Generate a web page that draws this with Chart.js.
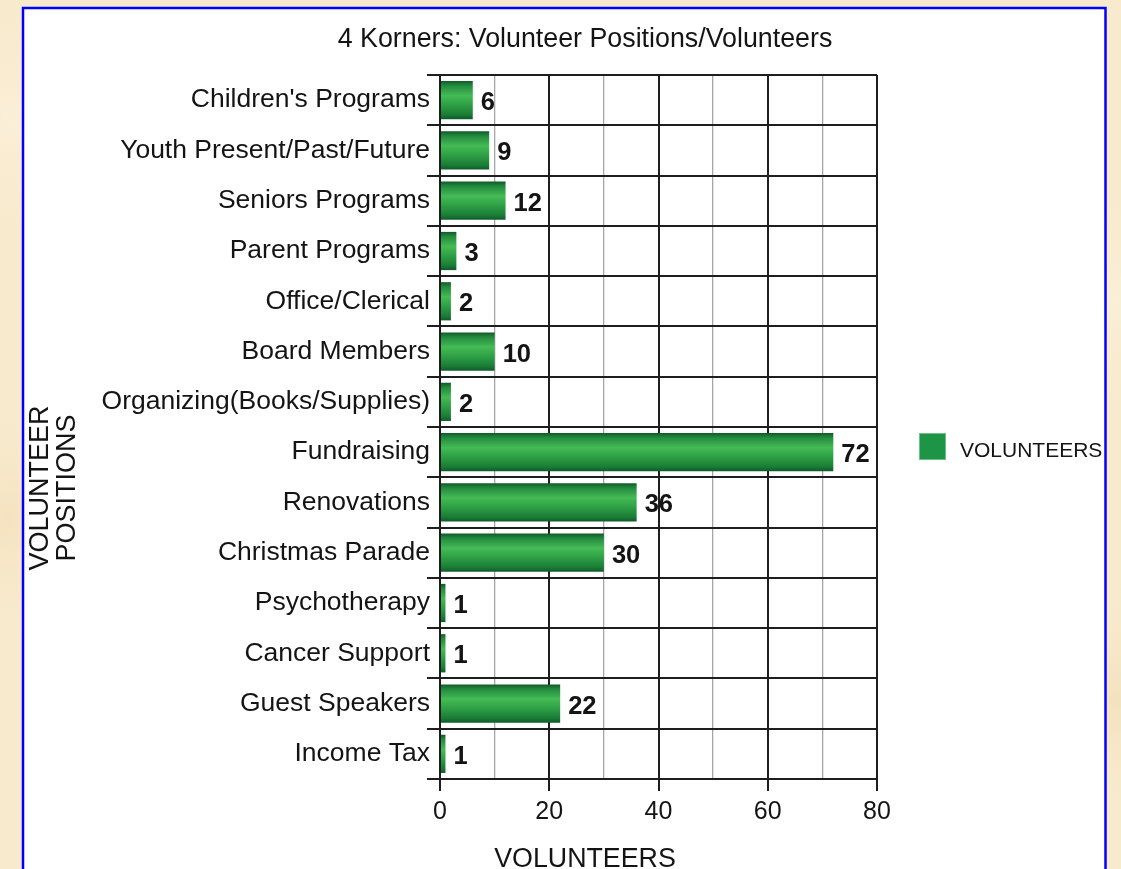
<!DOCTYPE html>
<html>
<head>
<meta charset="utf-8">
<script src="https://cdn.jsdelivr.net/npm/chart.js@4.4.1/dist/chart.umd.min.js"></script>
<style>
  html, body { margin: 0; padding: 0; background: #f8eacd; }
  canvas { display: block; }
</style>
</head>
<body>
<canvas id="chart" width="1121" height="869"></canvas>
<script>
// data
const positions = [
  "Children's Programs", "Youth Present/Past/Future", "Seniors Programs",
  "Parent Programs", "Office/Clerical", "Board Members",
  "Organizing(Books/Supplies)", "Fundraising", "Renovations",
  "Christmas Parade", "Psychotherapy", "Cancer Support",
  "Guest Speakers", "Income Tax"
];
const volunteers = [6, 9, 12, 3, 2, 10, 2, 72, 36, 30, 1, 1, 22, 1];
const xLabelTicks = [0, 20, 40, 60, 80];

const chartTitle = "4 Korners: Volunteer Positions/Volunteers";
const xTitle = "VOLUNTEERS";
const yTitle = ["VOLUNTEER", "POSITIONS"];
const seriesName = "VOLUNTEERS";

const FONT = "'Liberation Sans', Arial, Helvetica, sans-serif";
const INK = '#141414';

// gradient per bar, built from the y scale
function barFill(c) {
  const chart = c.chart;
  const y = chart.scales.y;
  if (!chart.chartArea || !y) return '#1e9446';
  const mid = y.getPixelForValue(c.dataIndex);
  const half = (y.height / positions.length) * 0.76 / 2;
  const g = chart.ctx.createLinearGradient(0, mid - half, 0, mid + half);
  g.addColorStop(0, '#0f5a28');
  g.addColorStop(0.12, '#238a3e');
  g.addColorStop(0.38, '#45ba55');
  g.addColorStop(0.6, '#30a346');
  g.addColorStop(0.88, '#1a7d37');
  g.addColorStop(1, '#0f5a28');
  return g;
}

const decor = {
  id: 'decor',
  beforeDraw(chart) {
    const ctx = chart.ctx;
    ctx.save();
    ctx.fillStyle = '#f8eacd';
    ctx.fillRect(0, 0, chart.width, chart.height);
    // a little mottling in the backdrop
    const spots = [[10, 120, '#fbefd8'], [8, 520, '#f5e2c0'], [1115, 300, '#fbefd8'], [1115, 700, '#f4e1be']];
    spots.forEach(([x, y, col]) => {
      const r = ctx.createRadialGradient(x, y, 0, x, y, 120);
      r.addColorStop(0, col);
      r.addColorStop(1, 'rgba(248,234,205,0)');
      ctx.fillStyle = r;
      ctx.fillRect(x - 120, y - 120, 240, 240);
    });
    ctx.fillStyle = '#ffffff';
    ctx.fillRect(23, 8, 1082.5, 880);
    ctx.strokeStyle = '#0000ff';
    ctx.lineWidth = 2.5;
    ctx.strokeRect(23, 8, 1082.5, 880);
    ctx.restore();
  },
  afterDatasetsDraw(chart) {
    const ctx = chart.ctx;
    const meta = chart.getDatasetMeta(0);
    ctx.save();
    ctx.fillStyle = INK;
    ctx.font = 'bold 25.5px ' + FONT;
    ctx.textAlign = 'left';
    ctx.textBaseline = 'middle';
    meta.data.forEach((bar, i) => {
      ctx.fillText(String(volunteers[i]), bar.x + 8, bar.y + 3);
    });
    ctx.restore();
  },
  afterDraw(chart) {
    const ctx = chart.ctx;
    ctx.save();
    ctx.fillStyle = INK;
    ctx.textBaseline = 'alphabetic';
    ctx.textAlign = 'center';
    ctx.font = '26.8px ' + FONT;
    ctx.fillText(chartTitle, 585, 47);
    ctx.fillText(xTitle, 585, 867);

    // rotated y title, two lines
    ctx.save();
    ctx.translate(0, 488);
    ctx.rotate(-Math.PI / 2);
    ctx.font = '27px ' + FONT;
    ctx.fillText(yTitle[0], 0, 48);
    ctx.fillText(yTitle[1], 0, 75);
    ctx.restore();

    // legend
    ctx.fillStyle = '#1e9446';
    ctx.fillRect(919, 433, 27, 27);
    ctx.strokeStyle = '#6cbf85';
    ctx.lineWidth = 1;
    ctx.strokeRect(919.5, 433.5, 26, 26);
    ctx.fillStyle = INK;
    ctx.font = '21px ' + FONT;
    ctx.textAlign = 'left';
    ctx.textBaseline = 'middle';
    ctx.fillText(seriesName, 960, 451);
    ctx.restore();
  }
};

new Chart(document.getElementById('chart'), {
  type: 'bar',
  data: {
    labels: positions,
    datasets: [{
      label: seriesName,
      data: volunteers,
      backgroundColor: barFill,
      borderWidth: 0,
      categoryPercentage: 1,
      barPercentage: 0.76
    }]
  },
  options: {
    indexAxis: 'y',
    responsive: false,
    animation: false,
    layout: { padding: { top: 75, right: 244, bottom: 0, left: 0 } },
    plugins: {
      legend: { display: false },
      title: { display: false },
      tooltip: { enabled: false }
    },
    scales: {
      x: {
        min: 0,
        max: 80,
        afterFit(s) { s.height = 90; },
        ticks: {
          stepSize: 10,
          autoSkip: false,
          maxRotation: 0,
          padding: 6,
          color: INK,
          font: { family: FONT, size: 25 },
          callback: v => xLabelTicks.includes(v) ? String(v) : ''
        },
        grid: {
          color: c => (c.tick && c.tick.value % 20 === 0) ? '#1e1e1e' : '#a6a6a6',
          lineWidth: c => (c.tick && c.tick.value % 20 === 0) ? 2 : 1.3,
          tickColor: c => (c.tick && c.tick.value % 20 === 0) ? '#1e1e1e' : 'rgba(0,0,0,0)',
          tickLength: 12
        },
        border: { color: '#1e1e1e', width: 2 }
      },
      y: {
        afterFit(s) { s.width = 440; },
        ticks: {
          autoSkip: false,
          padding: -3,
          color: INK,
          font: { family: FONT, size: 26.5 }
        },
        grid: {
          color: '#1e1e1e',
          lineWidth: 2,
          tickLength: 13
        },
        border: { color: '#1e1e1e', width: 2 }
      }
    }
  },
  plugins: [decor]
});
</script>
</body>
</html>
